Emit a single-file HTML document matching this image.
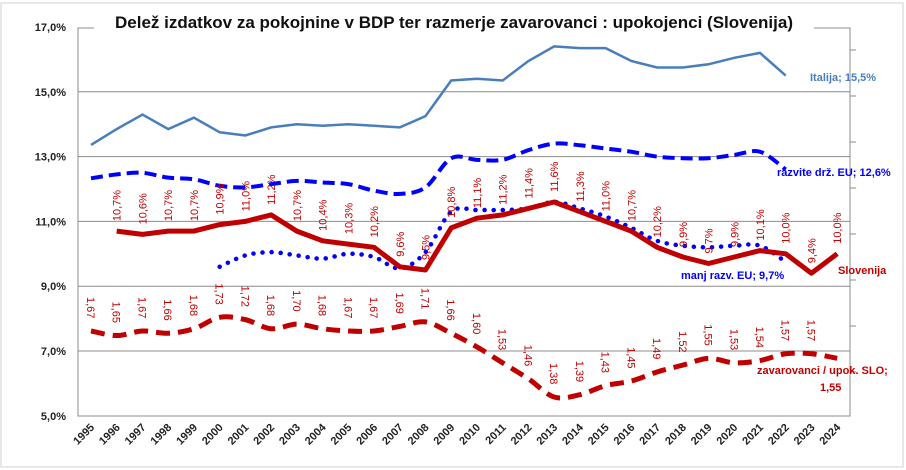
<!DOCTYPE html>
<html><head><meta charset="utf-8"><style>
html,body{margin:0;padding:0;background:#fff;}
svg{display:block;font-family:"Liberation Sans",sans-serif;}
</style></head><body>
<svg id="c" width="906" height="470" viewBox="0 0 906 470"></svg>
<script>
const s=document.getElementById('c');let h='';
const X=i=>91+i*25.73, Y=v=>27+(17-v)*32.4, Y2=v=>331+(1.67-v)*227.6;
h+='<rect x="1" y="3" width="902" height="464" fill="#fff" stroke="#d0d0d0"/>';
h+='<rect x="78" y="28" width="772" height="388" fill="none" stroke="#8c8c8c"/>';
[15,13,11,9,7].forEach(v=>h+=`<line x1="78" x2="850" y1="${Y(v)}" y2="${Y(v)}" stroke="#8c8c8c"/>`);
[17,15,13,11,9,7,5].forEach(v=>h+=`<text x="66" y="${Y(v)+4}" text-anchor="end" font-size="11" font-weight="bold" fill="#222">${v},0%</text>`);
for(let k=0;k<9;k++){let y=50+k*46;if(y<416)h+=`<line x1="850" x2="856" y1="${y}" y2="${y}" stroke="#8c8c8c"/>`;}
for(let i=0;i<30;i++){h+=`<text transform="translate(${X(i)+4},${428}) rotate(-45)" text-anchor="end" font-size="11" font-weight="bold" fill="#222">${1995+i}</text>`;}
function lin(pts){return 'M'+pts.map(p=>p[0].toFixed(1)+','+p[1].toFixed(1)).join(' L');}
function smooth(p){let d='M'+p[0][0]+','+p[0][1];for(let i=0;i<p.length-1;i++){const p0=p[i-1]||p[i],p1=p[i],p2=p[i+1],p3=p[i+2]||p2;
d+=` C${p1[0]+(p2[0]-p0[0])/6},${p1[1]+(p2[1]-p0[1])/6} ${p2[0]-(p3[0]-p1[0])/6},${p2[1]-(p3[1]-p1[1])/6} ${p2[0]},${p2[1]}`;}return d;}
const ita=[13.36,13.85,14.3,13.85,14.2,13.75,13.65,13.9,14.0,13.95,14.0,13.95,13.9,14.25,15.35,15.4,15.35,15.95,16.4,16.35,16.35,15.95,15.75,15.75,15.85,16.05,16.2,15.5];
const raz=[12.33,12.45,12.5,12.35,12.3,12.1,12.05,12.15,12.25,12.2,12.15,11.95,11.85,12.05,12.95,12.9,12.9,13.2,13.4,13.35,13.25,13.15,13.0,12.95,12.95,13.05,13.15,12.6];
const man=[9.6,9.95,10.05,9.95,9.85,10.0,9.9,9.55,10.05,11.3,11.35,11.35,11.4,11.6,11.4,11.15,10.8,10.4,10.25,10.2,10.25,10.25,9.75];
const slo=[10.7,10.6,10.7,10.7,10.9,11.0,11.2,10.7,10.4,10.3,10.2,9.6,9.5,10.8,11.1,11.2,11.4,11.6,11.3,11.0,10.7,10.2,9.9,9.7,9.9,10.1,10.0,9.4,10.0];
const rat=[1.67,1.65,1.67,1.66,1.68,1.73,1.72,1.68,1.70,1.68,1.67,1.67,1.69,1.71,1.66,1.60,1.53,1.46,1.38,1.39,1.43,1.45,1.49,1.52,1.55,1.53,1.54,1.57,1.57,1.55];
h+=`<path d="${lin(ita.map((v,i)=>[X(i),Y(v)]))}" fill="none" stroke="#4a7ebb" stroke-width="2.5"/>`;
h+=`<path d="${smooth(raz.map((v,i)=>[X(i),Y(v)]))}" fill="none" stroke="#0000ff" stroke-width="4" stroke-dasharray="12 6"/>`;
h+=`<path d="${smooth(man.map((v,i)=>[X(i+5),Y(v)]))}" fill="none" stroke="#0000ff" stroke-width="4.5" stroke-dasharray="0.1 9" stroke-linecap="round"/>`;
h+=`<path d="${smooth(rat.map((v,i)=>[X(i),Y2(v)]))}" fill="none" stroke="#c00000" stroke-width="5" stroke-dasharray="14 8"/>`;
h+=`<path d="${lin(slo.map((v,i)=>[X(i+1),Y(v)]))}" fill="none" stroke="#c00000" stroke-width="5" stroke-linejoin="round"/>`;
slo.forEach((v,i)=>{h+=`<text transform="translate(${X(i+1)+4},${Y(v)-10}) rotate(-90)" font-size="11" fill="#c00000">${v.toFixed(1).replace('.',',')}%</text>`;});
rat.forEach((v,i)=>{if(i<29)h+=`<text transform="translate(${X(i)-4},${Y2(v)-34}) rotate(90)" font-size="11" fill="#c00000">${v.toFixed(2).replace('.',',')}</text>`;});
h+='<rect x="94" y="10" width="720" height="24" fill="#fff"/>';
h+='<text x="454" y="28" text-anchor="middle" font-size="17" font-weight="bold" fill="#111">Delež izdatkov za pokojnine v BDP ter razmerje zavarovanci : upokojenci (Slovenija)</text>';
h+='<text x="810" y="81" font-size="11" font-weight="bold" fill="#4a7ebb">Italija; 15,5%</text>';
h+='<text x="777" y="176" font-size="11" font-weight="bold" fill="#0000ff">razvite drž. EU; 12,6%</text>';
h+='<text x="681" y="279" font-size="11" font-weight="bold" fill="#0000ff">manj razv. EU; 9,7%</text>';
h+='<text x="838" y="274" font-size="11" font-weight="bold" fill="#c00000">Slovenija</text>';
h+='<text x="757" y="374" font-size="11" font-weight="bold" fill="#c00000">zavarovanci / upok. SLO;</text>';
h+='<text x="820" y="391" font-size="11" font-weight="bold" fill="#c00000">1,55</text>';
s.innerHTML=h;
</script>
</body></html>
